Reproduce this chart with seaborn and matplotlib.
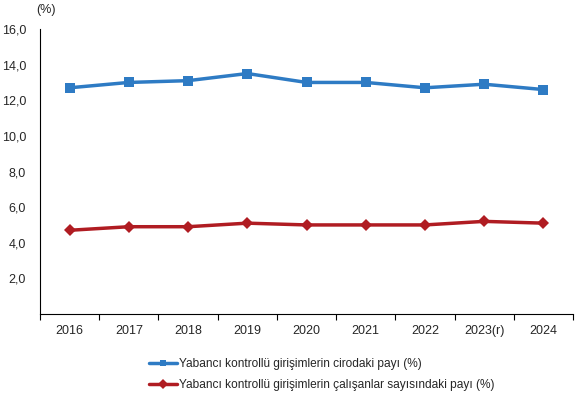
import numpy as np
import pandas as pd
import matplotlib
matplotlib.use("Agg")
import matplotlib.pyplot as plt
import seaborn as sns
from matplotlib.ticker import FixedLocator, FuncFormatter

# data
years = ["2016", "2017", "2018", "2019", "2020", "2021", "2022", "2023(r)", "2024"]
turnover_share = [12.7, 13.0, 13.1, 13.5, 13.0, 13.0, 12.7, 12.9, 12.6]
employment_share = [4.7, 4.9, 4.9, 5.1, 5.0, 5.0, 5.0, 5.2, 5.1]
series_names = [
    "Yabancı kontrollü girişimlerin cirodaki payı (%)",
    "Yabancı kontrollü girişimlerin çalışanlar sayısındaki payı (%)",
]

df = pd.DataFrame({
    "year": years * 2,
    "value": turnover_share + employment_share,
    "series": [series_names[0]] * len(years) + [series_names[1]] * len(years),
})

sns.set_style("white")
plt.rcParams["font.family"] = ["Liberation Sans", "DejaVu Sans"]
plt.rcParams["font.size"] = 9

fig = plt.figure(figsize=(5.87, 3.96), dpi=100)
ax = fig.add_axes([40 / 587, 1 - 314 / 396, 533 / 587, 285 / 396])

sns.lineplot(
    data=df, x="year", y="value", hue="series", style="series",
    palette=["#2E7BC4", "#B01C22"], markers=["s", "D"], dashes=False,
    markersize=6.5, linewidth=2.5, markeredgewidth=0, ax=ax,
)

ax.set_xlim(-0.5, len(years) - 0.5)
ax.set_ylim(0, 16)
ax.yaxis.set_major_locator(FixedLocator(np.arange(2, 17, 2)))
ax.yaxis.set_major_formatter(FuncFormatter(lambda v, p: f"{v:.1f}".replace(".", ",")))
ax.tick_params(axis="y", length=0, pad=10, labelsize=9)
ax.set_xticks(range(len(years)))
ax.set_xticklabels(years)
ax.tick_params(axis="x", which="major", length=0, pad=8, labelsize=9)
ax.xaxis.set_minor_locator(FixedLocator(np.arange(-0.5, len(years), 1.0)))
ax.tick_params(axis="x", which="minor", bottom=True, length=4, width=0.8,
               direction="out", color="black")
ax.set_xlabel("")
ax.set_ylabel("")

for s in ["top", "right"]:
    ax.spines[s].set_visible(False)
for s in ["left", "bottom"]:
    ax.spines[s].set_color("black")
    ax.spines[s].set_linewidth(0.8)

ax.text(6 / 533, 1.045, "(%)", transform=ax.transAxes, ha="center", va="bottom", fontsize=9)

handles, labels = ax.get_legend_handles_labels()
ax.legend(
    handles, labels, loc="upper left", bbox_to_anchor=(138 / 587, 1 - 347 / 396),
    bbox_transform=fig.transFigure, frameon=False, handlelength=2.4,
    handletextpad=0.15, labelspacing=0.8, fontsize=8.6, markerscale=0.75,
)

fig.savefig("out.png", dpi=100)
